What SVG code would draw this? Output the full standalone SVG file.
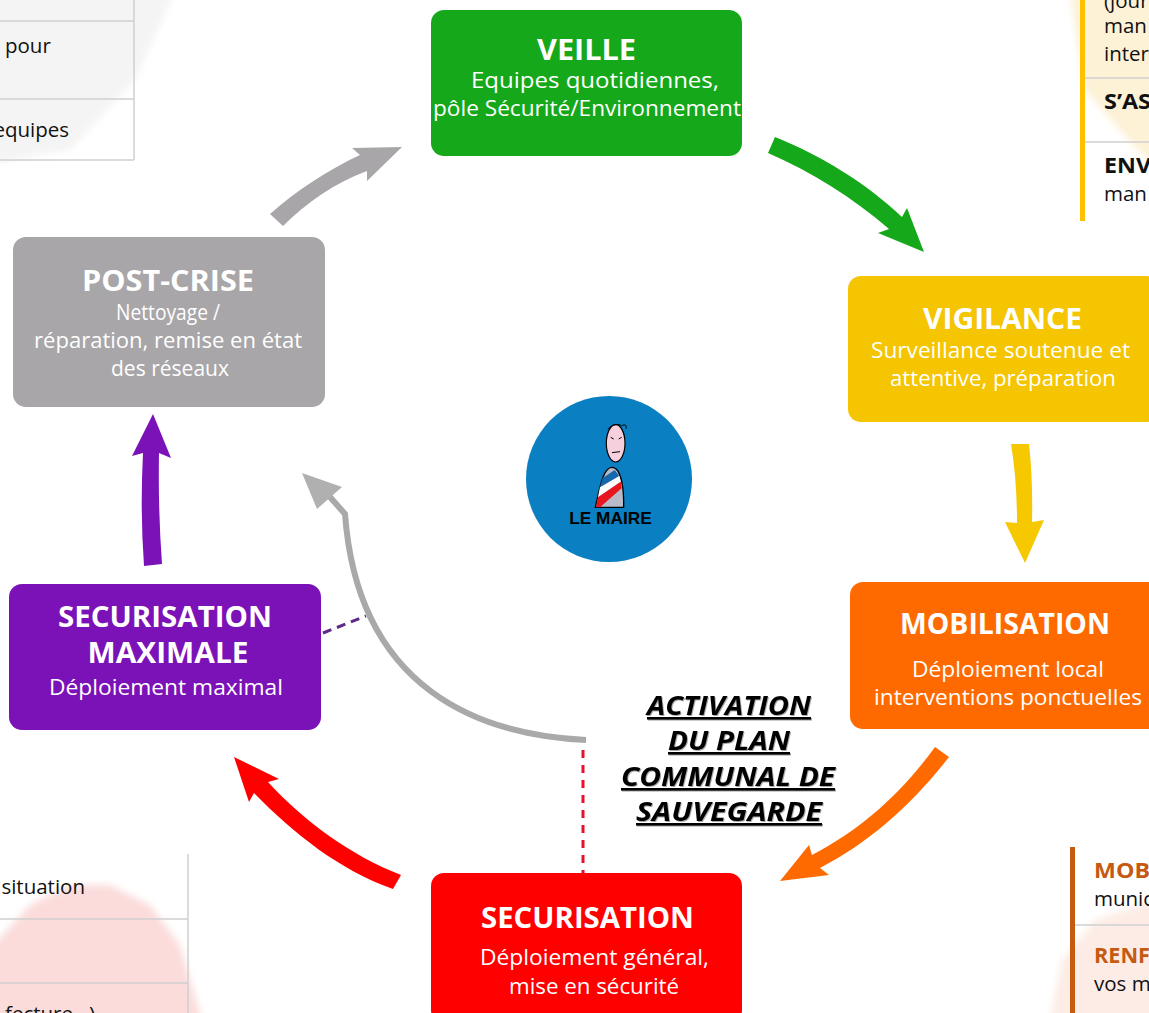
<svg xmlns="http://www.w3.org/2000/svg" width="1149" height="1013" viewBox="0 0 1149 1013">
<defs><filter id="soft" x="-20%" y="-20%" width="140%" height="140%"><feGaussianBlur stdDeviation="3.5"/></filter></defs>
<style>
.t{font-family:"Open Sans","Noto Sans",sans-serif;fill:#fff;text-anchor:middle}
.h{font-weight:700;font-size:29px}
.s{font-size:21.5px}
.bg{font-family:"Open Sans","Noto Sans",sans-serif;font-size:20.5px;fill:#111}
.b{font-weight:700}
.o{fill:#c55a11;font-weight:700}
.rule{stroke:#d0d0d0;stroke-width:1.5;fill:none}
.act{font-family:"Open Sans","Noto Sans",sans-serif;font-size:26px;font-weight:700;font-style:italic;text-anchor:middle;fill:#000;text-decoration:underline;filter:drop-shadow(1px 1px .6px #aaa)}
</style>
<rect width="1149" height="1013" fill="#fff"/>
<g id="background">
<path d="M-20 -20H180L135 80L70 150L-20 165Z" fill="#f4f4f4" filter="url(#soft)"/>
<path d="M1068 -20H1170V185L1120 130L1085 90Z" fill="#fdf1d6" filter="url(#soft)"/>
<path d="M-20 960L30 905L70 885L110 885L150 905L180 945L205 1030H-20Z" fill="#fbdcdb" filter="url(#soft)"/>
<path d="M1048 1030L1062 960L1095 920L1170 895V1030Z" fill="#fdece5" filter="url(#soft)"/>
<path class="rule" d="M0 21H134M0 99H134M0 160H134M134 0V160"/>
<text class="bg" x="5" y="53">pour</text>
<text class="bg" x="69" y="137" text-anchor="end">equipes</text>
<path class="rule" d="M1081 78H1149M1081 142H1149"/>
<rect x="1080" y="0" width="5" height="221" fill="#ffc000"/>
<text class="bg" x="1104" y="8">(jour</text>
<text class="bg" x="1104" y="33">man</text>
<text class="bg" x="1104" y="61">inter</text>
<text class="bg b" x="1104" y="109" textLength="47" lengthAdjust="spacingAndGlyphs">S’AS</text>
<text class="bg b" x="1104" y="173" textLength="47" lengthAdjust="spacingAndGlyphs">ENV</text>
<text class="bg" x="1104" y="201">man</text>
<path class="rule" d="M188 854V1013M0 919H188M0 983H188"/>
<text class="bg" x="85" y="894" text-anchor="end">situation</text>
<text class="bg" x="95" y="1021" text-anchor="end">fecture…)</text>
<rect x="1070" y="847" width="5" height="166" fill="#c55a11"/>
<path class="rule" d="M1075 925H1149"/>
<text class="bg o" x="1094" y="878" textLength="56" lengthAdjust="spacingAndGlyphs">MOB</text>
<text class="bg" x="1094" y="906">munic</text>
<text class="bg o" x="1094" y="963" textLength="56" lengthAdjust="spacingAndGlyphs">RENF</text>
<text class="bg" x="1094" y="991">vos m</text>
</g>
<g id="connectors">
<path d="M775 137C820 155 865 182 902 217L907 208L924 252L878 233L889 229C853 198 812 172 768 153Z" fill="#15a81a"/>
<path d="M1011 444H1029Q1033 480 1032 522L1044 520L1025 563L1005 522L1017 523Q1017 480 1011 444Z" fill="#f5c800"/>
<path d="M935 747L949 757C910 807 868 843 820 868L829 875L780 881L809 845L812 855C860 830 900 795 935 747Z" fill="#ff6a00"/>
<path d="M401 875L393 889C340 870 295 835 254 793L249 802L234 757L279 779L268 782C305 822 350 855 401 875Z" fill="#ff0000"/>
<path d="M144 566Q140 510 143 453L132 456L153 414L171 458L159 453Q158 510 162 564Z" fill="#7b12b8"/>
<path d="M270 214C297 190 328 170 360 155L352 148L402 147L367 181L367 171C335 183 307 202 283 226Z" fill="#a8a6a8"/>
<path d="M586 740C480 735 358 690 345 514L330 497" fill="none" stroke="#a9a9a9" stroke-width="6"/>
<path d="M302 473L342 487L317 509Z" fill="#b0b0b0"/>
<path d="M583 750V873" fill="none" stroke="#e8112d" stroke-width="3" stroke-dasharray="8 7"/>
<path d="M323 633L366 616" fill="none" stroke="#5e2a86" stroke-width="3" stroke-dasharray="9 6"/>
</g>
<g id="veille"><rect x="431" y="10" width="311" height="146" rx="13" fill="#15a81a"/>
<text class="t h" x="586.5" y="60" textLength="99" lengthAdjust="spacingAndGlyphs">VEILLE</text><text class="t s" x="595" y="88" textLength="248" lengthAdjust="spacingAndGlyphs">Equipes quotidiennes,</text><text class="t s" x="587" y="116" textLength="308" lengthAdjust="spacingAndGlyphs">pôle Sécurité/Environnement</text></g>
<g id="vigilance"><rect x="848" y="276" width="311" height="146" rx="13" fill="#f4c500"/>
<text class="t h" x="1002.5" y="329" textLength="159" lengthAdjust="spacingAndGlyphs">VIGILANCE</text><text class="t s" x="1000.5" y="358" textLength="259" lengthAdjust="spacingAndGlyphs">Surveillance soutenue et</text><text class="t s" x="1003" y="386" textLength="226" lengthAdjust="spacingAndGlyphs">attentive, préparation</text></g>
<g id="mobilisation"><rect x="850" y="582" width="311" height="147" rx="13" fill="#ff6a00"/>
<text class="t h" x="1005" y="634" textLength="210" lengthAdjust="spacingAndGlyphs">MOBILISATION</text><text class="t s" x="1008" y="677" textLength="192" lengthAdjust="spacingAndGlyphs">Déploiement local</text><text class="t s" x="1008" y="705" textLength="268" lengthAdjust="spacingAndGlyphs">interventions ponctuelles</text></g>
<g id="securisation"><rect x="431" y="873" width="311" height="150" rx="13" fill="#ff0000"/>
<text class="t h" x="587.5" y="928" textLength="213" lengthAdjust="spacingAndGlyphs">SECURISATION</text><text class="t s" x="594.5" y="965" textLength="229" lengthAdjust="spacingAndGlyphs">Déploiement général,</text><text class="t s" x="594" y="994" textLength="170" lengthAdjust="spacingAndGlyphs">mise en sécurité</text></g>
<g id="securisation-maximale"><rect x="9" y="584" width="312" height="146" rx="13" fill="#7b12b8"/>
<text class="t h" x="165" y="627" textLength="214" lengthAdjust="spacingAndGlyphs">SECURISATION</text><text class="t h" x="168" y="663" textLength="161" lengthAdjust="spacingAndGlyphs">MAXIMALE</text><text class="t s" x="166" y="695" textLength="234" lengthAdjust="spacingAndGlyphs">Déploiement maximal</text></g>
<g id="post-crise"><rect x="13" y="237" width="312" height="170" rx="13" fill="#a8a6a8"/>
<text class="t h" x="168" y="291" textLength="172" lengthAdjust="spacingAndGlyphs">POST-CRISE</text><text class="t s" x="168" y="320" textLength="104" lengthAdjust="spacingAndGlyphs">Nettoyage /</text><text class="t s" x="168" y="348" textLength="268" lengthAdjust="spacingAndGlyphs">réparation, remise en état</text><text class="t s" x="170" y="376" textLength="118" lengthAdjust="spacingAndGlyphs">des réseaux</text></g>
<g id="le-maire">
<circle cx="609" cy="479" r="83" fill="#0a7fc2"/>
<g transform="translate(520 390) scale(.3333)">
<path d="M226 352C240 290 250 232 276 232C305 232 312 300 311 352Z" fill="#b9bcc8" stroke="#000" stroke-width="4"/>
<path d="M248 264L284 240L298 258L258 288L240 290Z" fill="#1668ad"/>
<path d="M240 292L298 258L302 275L234 322Z" fill="#fff"/>
<path d="M234 322L302 275L305 295L240 352H228Z" fill="#e8171f"/>
<ellipse cx="287" cy="160" rx="28" ry="56" fill="#f6d0dc" stroke="#000" stroke-width="3.500"/>
<path d="M264 118C275 102 298 100 305 108C315 100 322 108 318 116M272 142l9 5M305 142l-9 5M276 188l24-3" fill="none" stroke="#000" stroke-width="3"/>
</g>
<text x="610.500" y="524" font-family="'Liberation Sans',Arial,sans-serif" font-size="17.300" font-weight="700" text-anchor="middle" fill="#000">LE MAIRE</text>
</g>
<g id="activation">
<text class="act" x="729" y="715" textLength="164" lengthAdjust="spacingAndGlyphs">ACTIVATION</text>
<text class="act" x="729" y="750" textLength="122" lengthAdjust="spacingAndGlyphs">DU PLAN</text>
<text class="act" x="728" y="786" textLength="214" lengthAdjust="spacingAndGlyphs">COMMUNAL DE</text>
<text class="act" x="729" y="821" textLength="186" lengthAdjust="spacingAndGlyphs">SAUVEGARDE</text>
</g>
</svg>
